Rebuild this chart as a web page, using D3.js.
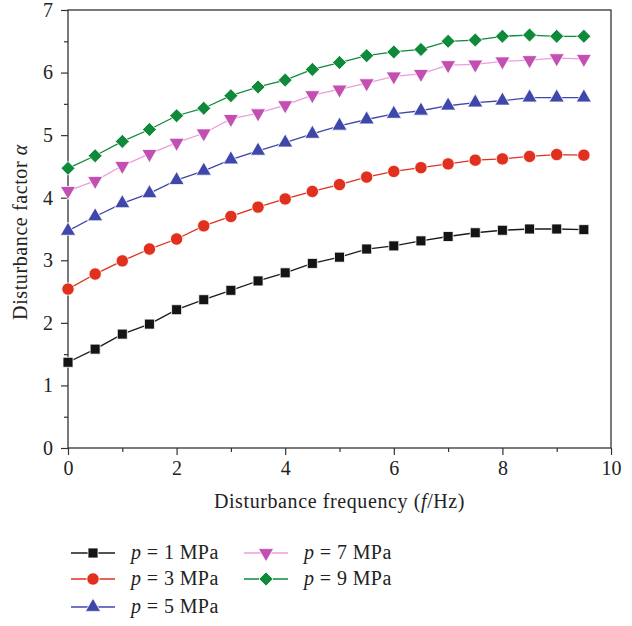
<!DOCTYPE html>
<html>
<head>
<meta charset="utf-8">
<script src="https://cdn.jsdelivr.net/npm/d3@7"></script>
<style>
  body { margin: 0; background: white; }
  svg { display: block; font-family: "Liberation Serif", "DejaVu Serif", serif; }
</style>
</head>
<body>
<svg id="chart"></svg>
<script>
// frequency (Hz)
const freq = [0, 0.5, 1, 1.5, 2, 2.5, 3, 3.5, 4, 4.5, 5, 5.5, 6, 6.5, 7, 7.5, 8, 8.5, 9, 9.5];

// disturbance factor per pressure
const p1 = [1.37, 1.58, 1.82, 1.98, 2.21, 2.37, 2.52, 2.67, 2.80, 2.95, 3.05, 3.18, 3.23, 3.31, 3.38, 3.44, 3.48, 3.50, 3.50, 3.49];
const p3 = [2.54, 2.78, 2.99, 3.18, 3.34, 3.55, 3.70, 3.85, 3.98, 4.10, 4.21, 4.33, 4.42, 4.48, 4.54, 4.60, 4.62, 4.66, 4.69, 4.68];
const p5 = [3.47, 3.70, 3.91, 4.07, 4.28, 4.43, 4.61, 4.75, 4.88, 5.02, 5.15, 5.25, 5.34, 5.39, 5.47, 5.52, 5.55, 5.60, 5.60, 5.60];
const p7 = [4.11, 4.27, 4.51, 4.70, 4.88, 5.03, 5.26, 5.35, 5.48, 5.64, 5.73, 5.83, 5.94, 5.98, 6.12, 6.13, 6.18, 6.20, 6.23, 6.22];
const p9 = [4.47, 4.67, 4.90, 5.09, 5.31, 5.43, 5.63, 5.77, 5.88, 6.05, 6.16, 6.27, 6.33, 6.37, 6.50, 6.52, 6.58, 6.60, 6.58, 6.58];

const pressures = ["1", "3", "5", "7", "9"];
const xTicks = [0, 2, 4, 6, 8, 10];
const yTicks = [0, 1, 2, 3, 4, 5, 6, 7];

const series = [
    { p: pressures[0], values: p1, line: "#1a1a1a", fill: "#141414", symbol: d3.symbolSquare, size: 100, rot: 0 },
    { p: pressures[1], values: p3, line: "#e0301e", fill: "#e0301e", symbol: d3.symbolCircle, size: 120, rot: 0 },
    { p: pressures[2], values: p5, line: "#3f48aa", fill: "#3f48aa", symbol: d3.symbolTriangle, size: 100, rot: 0 },
    { p: pressures[3], values: p7, line: "#eb9edd", fill: "#c24fb1", symbol: d3.symbolTriangle, size: 100, rot: 180 },
    { p: pressures[4], values: p9, line: "#0e8a3a", fill: "#0e8a3a", symbol: d3.symbolDiamond2, size: 125, rot: 0 }
];

const width = 632, height = 626;
const margin = { top: 10, right: 21, bottom: 178, left: 68 };
const innerW = width - margin.left - margin.right;
const innerH = height - margin.top - margin.bottom;
const textColor = "#222";

const svg = d3.select("#chart")
    .attr("width", width)
    .attr("height", height);

const g = svg.append("g")
    .attr("transform", `translate(${margin.left},${margin.top})`);

const x = d3.scaleLinear().domain([0, 10]).range([0, innerW]);
const y = d3.scaleLinear().domain([0, 7]).range([innerH, 0]);

//frame
g.append("rect")
    .attr("width", innerW)
    .attr("height", innerH)
    .attr("fill", "none")
    .attr("stroke", "#333")
    .attr("stroke-width", 1.3);

//minor ticks
g.append("g")
    .attr("transform", `translate(0,${innerH})`)
    .call(d3.axisBottom(x).tickValues([1, 3, 5, 7, 9]).tickSize(4).tickFormat(""))
    .call(a => a.select(".domain").remove())
    .selectAll("line").attr("stroke", "#333").attr("stroke-width", 1.2);

g.append("g")
    .call(d3.axisLeft(y).tickValues([0.5, 1.5, 2.5, 3.5, 4.5, 5.5, 6.5]).tickSize(4).tickFormat(""))
    .call(a => a.select(".domain").remove())
    .selectAll("line").attr("stroke", "#333").attr("stroke-width", 1.2);

//major ticks + labels
const xAxis = g.append("g")
    .attr("transform", `translate(0,${innerH})`)
    .call(d3.axisBottom(x).tickValues(xTicks).tickSize(7).tickPadding(6).tickFormat(d3.format("d")))
    .call(a => a.select(".domain").remove());
xAxis.selectAll("line").attr("stroke", "#333").attr("stroke-width", 1.2);
xAxis.selectAll("text")
    .style("font-family", "Liberation Serif, serif")
    .style("font-size", "20px")
    .attr("fill", textColor);

const yAxis = g.append("g")
    .call(d3.axisLeft(y).tickValues(yTicks).tickSize(7).tickPadding(8).tickFormat(d3.format("d")))
    .call(a => a.select(".domain").remove());
yAxis.selectAll("line").attr("stroke", "#333").attr("stroke-width", 1.2);
yAxis.selectAll("text")
    .style("font-family", "Liberation Serif, serif")
    .style("font-size", "20px")
    .attr("fill", textColor);

//axis titles
const xTitle = g.append("text")
    .attr("x", innerW / 2)
    .attr("y", innerH + 60)
    .attr("text-anchor", "middle")
    .style("font-size", "20px")
    .style("letter-spacing", "0.6px")
    .attr("fill", textColor);
xTitle.append("tspan").text("Disturbance frequency (");
xTitle.append("tspan").style("font-style", "italic").text("f");
xTitle.append("tspan").text("/Hz)");

const yTitle = g.append("text")
    .attr("transform", `translate(${27 - margin.left},${innerH / 2 + 3}) rotate(-90)`)
    .attr("text-anchor", "middle")
    .style("font-size", "20px")
    .style("letter-spacing", "0.6px")
    .attr("fill", textColor);
yTitle.append("tspan").text("Disturbance factor ");
yTitle.append("tspan").style("font-style", "italic").text("α");

//lines + markers
const line = d3.line()
    .x((d, i) => x(freq[i]))
    .y(d => y(d));

series.forEach(s => {
    g.append("path")
        .datum(s.values)
        .attr("fill", "none")
        .attr("stroke", s.line)
        .attr("stroke-width", 1.3)
        .attr("d", line);

    g.selectAll(null)
        .data(s.values)
        .join("path")
        .attr("transform", (d, i) => `translate(${x(freq[i])},${y(d)}) rotate(${s.rot})`)
        .attr("d", d3.symbol(s.symbol, s.size))
        .attr("fill", s.fill)
        .attr("stroke", "white")
        .attr("stroke-width", 0.8);
});

//legend
const legendPos = [
    { x: 71, y: 553 }, { x: 71, y: 579 }, { x: 71, y: 607 },
    { x: 244, y: 553 }, { x: 244, y: 579 }
];

series.forEach((s, i) => {
    const lg = svg.append("g")
        .attr("transform", `translate(${legendPos[i].x},${legendPos[i].y})`);
    lg.append("line")
        .attr("x1", 0).attr("x2", 44)
        .attr("stroke", s.line)
        .attr("stroke-width", 1.3);
    lg.append("path")
        .attr("transform", `translate(22,0) rotate(${s.rot})`)
        .attr("d", d3.symbol(s.symbol, s.size))
        .attr("fill", s.fill)
        .attr("stroke", "white")
        .attr("stroke-width", 0.8);
    const t = lg.append("text")
        .attr("x", 60)
        .attr("y", 6)
        .style("font-size", "20px")
        .style("letter-spacing", "0.4px")
        .attr("fill", textColor);
    t.append("tspan").style("font-style", "italic").text("p");
    t.append("tspan").text(` = ${s.p} MPa`);
});
</script>
</body>
</html>
